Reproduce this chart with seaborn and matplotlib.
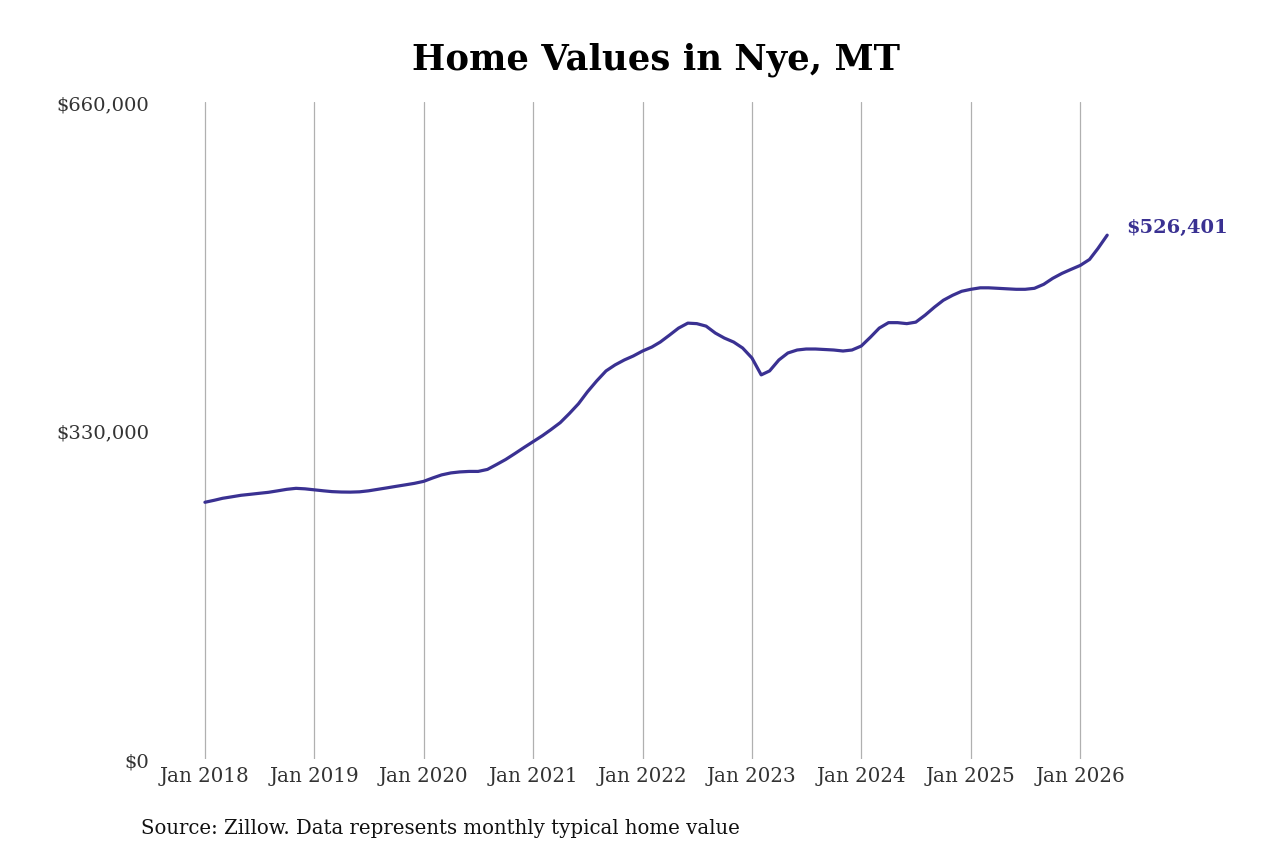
import numpy as np
import matplotlib.pyplot as plt
import matplotlib.dates as mdates
import matplotlib.ticker as mticker
import seaborn as sns
import pandas as pd

sns.set_style('white')
plt.rcParams['font.family'] = ['DejaVu Serif']

# monthly typical home value (thousands of $), Jan 2018 .. Apr 2026
v2018 = [258, 260, 262, 263.5, 265, 266, 267, 268, 269.5, 271, 272, 271.5]
v2019 = [270.5, 269.5, 268.7, 268.3, 268.2, 268.5, 269.5, 271, 272.5, 274, 275.5, 277]
v2020 = [279, 282.5, 285.5, 287.5, 288.5, 289, 289, 291, 296, 301, 307, 313]
v2021 = [319, 325, 331, 338, 347, 357, 369, 380, 390, 396, 401, 405]
v2022 = [410, 414, 419, 426, 433, 438, 437.5, 435, 428, 423, 419, 413]
v2023 = [403, 386, 390, 401, 408, 411, 412, 412, 411.5, 411, 410, 411]
v2024 = [415, 424, 433, 438.5, 438.5, 437.5, 439, 446, 454, 461, 466, 470]
v2025 = [472, 473.5, 473.5, 473, 472.5, 472, 472, 473, 477, 483, 488, 492]
v2026 = [496, 502, 513, 526.401]

values = v2018 + v2019 + v2020 + v2021 + v2022 + v2023 + v2024 + v2025 + v2026
dates = pd.date_range('2018-01-01', periods=len(values), freq='MS')
df = pd.DataFrame({'date': dates, 'value': np.array(values) * 1000})

line_color = '#3a3192'

fig = plt.figure(figsize=(12.8, 8.53), dpi=100)
ax = fig.add_axes([0.125, 0.109, 0.773, 0.770])
sns.lineplot(data=df, x='date', y='value', color=line_color, linewidth=2.3, ax=ax)

ax.set_ylim(0, 660000)
ax.set_xlim(pd.Timestamp('2017-08-04'), pd.Timestamp('2026-08-20'))
ax.set_yticks([0, 330000, 660000])
ax.yaxis.set_major_formatter(mticker.FuncFormatter(lambda v, p: f'${v:,.0f}'))
ax.xaxis.set_major_locator(mdates.YearLocator())
ax.xaxis.set_major_formatter(mdates.DateFormatter('Jan %Y'))
ax.grid(axis='x', color='#b0b0b0', linewidth=0.9)
ax.grid(axis='y', visible=False)
for s in ax.spines.values():
    s.set_visible(False)
ax.tick_params(axis='both', length=0, labelsize=14.3, colors='#333333')
ax.tick_params(axis='x', pad=5)
ax.tick_params(axis='y', labelsize=14, pad=8)
ax.set_xlabel('')
ax.set_ylabel('')

last = df.iloc[-1]
ax.annotate(f'${last.value:,.0f}', (last.date, last.value), xytext=(14, 6),
            textcoords='offset points', color=line_color, fontsize=14,
            fontweight='bold', va='center', ha='left')

fig.text(0.5125, 0.93, 'Home Values in Nye, MT', ha='center', va='center',
         fontsize=25.5, fontweight='bold', color='black')
fig.text(0.11, 0.029, 'Source: Zillow. Data represents monthly typical home value',
         ha='left', va='center', fontsize=14.2, color='#111111')

plt.savefig('out.png', dpi=100)
